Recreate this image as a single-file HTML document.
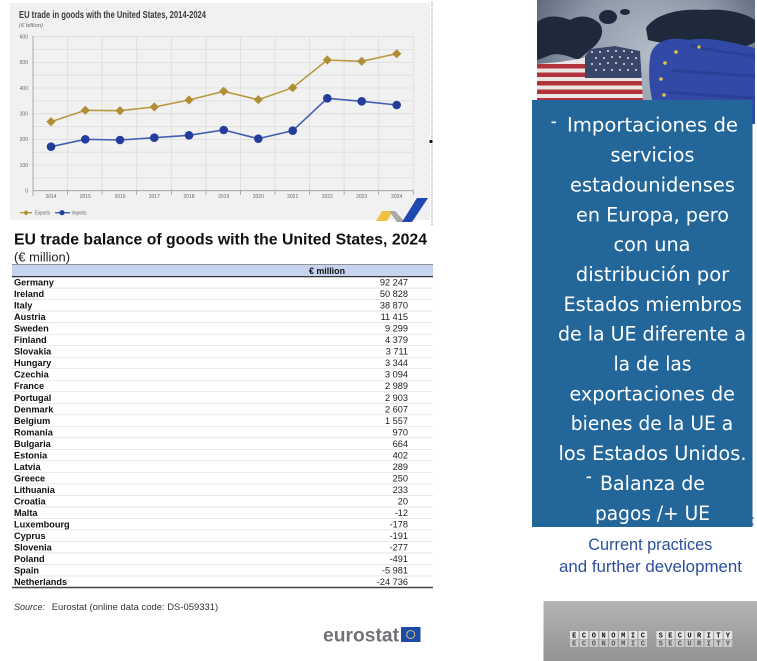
<!DOCTYPE html>
<html><head><meta charset="utf-8"><style>
html,body{margin:0;padding:0;background:#fff;}
svg{display:block;}
</style></head><body>
<svg width="757" height="661" viewBox="0 0 757 661" xmlns="http://www.w3.org/2000/svg">
<defs>
<radialGradient id="mapbg" cx="650" cy="55" r="130" gradientUnits="userSpaceOnUse">
<stop offset="0" stop-color="#b3bcc7"/><stop offset="0.6" stop-color="#8b97a6"/><stop offset="1" stop-color="#5a6678"/>
</radialGradient>
<linearGradient id="gimg" x1="0" y1="0" x2="0" y2="1">
<stop offset="0" stop-color="#b4b4b4"/><stop offset="1" stop-color="#939393"/>
</linearGradient>
<clipPath id="photo"><rect x="537" y="0" width="218" height="124"/></clipPath>
<clipPath id="flag"><path d="M537,64 L560,62 L584,58 L590,49 L615,46 L640,51 L643,100 L537,100Z"/></clipPath>
<path id="dm" d="M0,-4.6L4.6,0L0,4.6L-4.6,0Z"/>
</defs>

<!-- ============ LEFT: line chart panel ============ -->
<rect x="10" y="3" width="420" height="217" fill="#f1f1f1"/>
<text x="19" y="17.8" font-family="Liberation Sans, sans-serif" font-weight="bold" font-size="10" fill="#3a3a3a" textLength="187" lengthAdjust="spacingAndGlyphs">EU trade in goods with the United States, 2014-2024</text>
<text x="19" y="27" font-family="Liberation Sans, sans-serif" font-style="italic" font-size="5.5" fill="#666" textLength="24" lengthAdjust="spacingAndGlyphs">(€ billion)</text>

<!-- gridlines -->
<g stroke="#dcdcdc" stroke-width="0.8" fill="none">
<path d="M33,177.9H413M33,165H413M33,152.2H413M33,139.4H413M33,126.5H413M33,113.7H413M33,100.9H413M33,88H413M33,75.2H413M33,62.4H413M33,49.5H413M33,36.7H413"/>
<path d="M67.6,36.7V190.7M102.1,36.7V190.7M136.7,36.7V190.7M171.3,36.7V190.7M205.9,36.7V190.7M240.4,36.7V190.7M275,36.7V190.7M309.6,36.7V190.7M344.1,36.7V190.7M378.7,36.7V190.7M413.3,36.7V190.7"/>
</g>
<g stroke="#9a9a9a" stroke-width="0.8" fill="none">
<path d="M33,36V196"/>
<path d="M33,190.7H413.3"/>
<path d="M67.6,190.7V195M102.1,190.7V195M136.7,190.7V195M171.3,190.7V195M205.9,190.7V195M240.4,190.7V195M275,190.7V195M309.6,190.7V195M344.1,190.7V195M378.7,190.7V195M413.3,190.7V195"/>
</g>
<g font-family="Liberation Sans, sans-serif" font-size="5" fill="#666" text-anchor="end">
<text x="28" y="192.5">0</text><text x="28" y="166.8">100</text><text x="28" y="141.2">200</text><text x="28" y="115.5">300</text><text x="28" y="89.8">400</text><text x="28" y="64.2">500</text><text x="28" y="38.5">600</text>
</g>
<g font-family="Liberation Sans, sans-serif" font-size="5" fill="#666" text-anchor="middle">
<text x="51" y="198">2014</text><text x="85.3" y="198">2015</text><text x="120" y="198">2016</text><text x="154.3" y="198">2017</text><text x="189" y="198">2018</text><text x="223.7" y="198">2019</text><text x="258.3" y="198">2020</text><text x="292.7" y="198">2021</text><text x="327.3" y="198">2022</text><text x="361.7" y="198">2023</text><text x="396.7" y="198">2024</text>
</g>
<!-- series -->
<polyline fill="none" stroke="#b8983f" stroke-width="1.6" points="51,121.7 85.3,110.3 120,110.7 154.3,107 189,100 223.7,91.3 258.3,99.7 292.7,87.7 327.3,60 361.7,61.3 396.7,53.7"/>
<g fill="#b08e35">
<use href="#dm" x="51" y="121.7"/><use href="#dm" x="85.3" y="110.3"/><use href="#dm" x="120" y="110.7"/><use href="#dm" x="154.3" y="107"/><use href="#dm" x="189" y="100"/><use href="#dm" x="223.7" y="91.3"/><use href="#dm" x="258.3" y="99.7"/><use href="#dm" x="292.7" y="87.7"/><use href="#dm" x="327.3" y="60"/><use href="#dm" x="361.7" y="61.3"/><use href="#dm" x="396.7" y="53.7"/>
</g>
<polyline fill="none" stroke="#4560b2" stroke-width="1.6" points="51,146.7 85.3,139.3 120,140 154.3,137.7 189,135.3 223.7,130 258.3,138.7 292.7,130.7 327.3,98.3 361.7,101.3 396.7,105"/>
<g fill="#243d9c">
<circle cx="51" cy="146.7" r="4.3"/><circle cx="85.3" cy="139.3" r="4.3"/><circle cx="120" cy="140" r="4.3"/><circle cx="154.3" cy="137.7" r="4.3"/><circle cx="189" cy="135.3" r="4.3"/><circle cx="223.7" cy="130" r="4.3"/><circle cx="258.3" cy="138.7" r="4.3"/><circle cx="292.7" cy="130.7" r="4.3"/><circle cx="327.3" cy="98.3" r="4.3"/><circle cx="361.7" cy="101.3" r="4.3"/><circle cx="396.7" cy="105" r="4.3"/>
</g>
<!-- legend -->
<path d="M20,212.7H32" stroke="#b8983f" stroke-width="1.4"/>
<use href="#dm" x="26" y="212.7" fill="#b08e35" transform="translate(26,212.7) scale(0.6) translate(-26,-212.7)"/>
<text x="35" y="214.6" font-family="Liberation Sans, sans-serif" font-size="5.2" fill="#666" textLength="15" lengthAdjust="spacingAndGlyphs">Exports</text>
<path d="M55,212.7H70" stroke="#4560b2" stroke-width="1.4"/>
<circle cx="62" cy="212.7" r="2.6" fill="#243d9c"/>
<text x="71.5" y="214.6" font-family="Liberation Sans, sans-serif" font-size="5.2" fill="#666" textLength="15" lengthAdjust="spacingAndGlyphs">Imports</text>
<!-- corner logo -->
<path d="M376,221 L382,211 L393,211 L387,221Z" fill="#f0c040"/>
<path d="M389,211 L395,211 L405,222 L397,222Z" fill="#a8a8a8"/>
<path d="M402,222 L417,198 L428,198 L412,222Z" fill="#1f48b0"/>
<!-- dotted separator -->
<path d="M432,2V225" stroke="#7d8fb0" stroke-width="1" stroke-dasharray="1,1"/>
<rect x="429.5" y="140" width="3" height="3" fill="#111"/>

<!-- ============ LEFT: table ============ -->
<text x="14" y="244.5" font-family="Liberation Sans, sans-serif" font-weight="bold" font-size="15.5" fill="#111" textLength="413" lengthAdjust="spacingAndGlyphs">EU trade balance of goods with the United States, 2024</text>
<text x="14" y="261.5" font-family="Liberation Sans, sans-serif" font-size="13" fill="#222" textLength="56" lengthAdjust="spacingAndGlyphs">(€ million)</text>
<rect x="12" y="264.3" width="421" height="12.3" fill="#c7d4f0"/>
<path d="M12,264.5H433" stroke="#777" stroke-width="0.8"/>
<path d="M12,276.6H433" stroke="#333" stroke-width="1.2"/>
<text x="327" y="273.9" text-anchor="middle" font-family="Liberation Sans, sans-serif" font-weight="bold" font-size="9" fill="#111" textLength="36" lengthAdjust="spacingAndGlyphs">€ million</text>
<path d="M12,288.1H433M12,299.6H433M12,311.1H433M12,322.6H433M12,334.2H433M12,345.7H433M12,357.2H433M12,368.7H433M12,380.2H433M12,391.7H433M12,403.3H433M12,414.8H433M12,426.3H433M12,437.8H433M12,449.3H433M12,460.8H433M12,472.3H433M12,483.9H433M12,495.4H433M12,506.9H433M12,518.4H433M12,529.9H433M12,541.4H433M12,552.9H433M12,564.5H433M12,576H433" stroke="#dedede" stroke-width="0.7"/>
<path d="M12,587.5H433" stroke="#444" stroke-width="1.4"/>
<g font-family="Liberation Sans, sans-serif" font-weight="bold" font-size="9.2" fill="#111">
<text x="14" y="285.6">Germany</text><text x="14" y="297.1">Ireland</text><text x="14" y="308.6">Italy</text><text x="14" y="320.1">Austria</text><text x="14" y="331.7">Sweden</text><text x="14" y="343.2">Finland</text><text x="14" y="354.7">Slovakia</text><text x="14" y="366.2">Hungary</text><text x="14" y="377.7">Czechia</text><text x="14" y="389.2">France</text><text x="14" y="400.8">Portugal</text><text x="14" y="412.3">Denmark</text><text x="14" y="423.8">Belgium</text><text x="14" y="435.3">Romania</text><text x="14" y="446.8">Bulgaria</text><text x="14" y="458.3">Estonia</text><text x="14" y="469.8">Latvia</text><text x="14" y="481.4">Greece</text><text x="14" y="492.9">Lithuania</text><text x="14" y="504.4">Croatia</text><text x="14" y="515.9">Malta</text><text x="14" y="527.4">Luxembourg</text><text x="14" y="538.9">Cyprus</text><text x="14" y="550.4">Slovenia</text><text x="14" y="562">Poland</text><text x="14" y="573.5">Spain</text><text x="14" y="585">Netherlands</text>
</g>
<g font-family="Liberation Sans, sans-serif" font-size="9.2" fill="#222" text-anchor="end">
<text x="408" y="285.6">92 247</text><text x="408" y="297.1">50 828</text><text x="408" y="308.6">38 870</text><text x="408" y="320.1">11 415</text><text x="408" y="331.7">9 299</text><text x="408" y="343.2">4 379</text><text x="408" y="354.7">3 711</text><text x="408" y="366.2">3 344</text><text x="408" y="377.7">3 094</text><text x="408" y="389.2">2 989</text><text x="408" y="400.8">2 903</text><text x="408" y="412.3">2 607</text><text x="408" y="423.8">1 557</text><text x="408" y="435.3">970</text><text x="408" y="446.8">664</text><text x="408" y="458.3">402</text><text x="408" y="469.8">289</text><text x="408" y="481.4">250</text><text x="408" y="492.9">233</text><text x="408" y="504.4">20</text><text x="408" y="515.9">-12</text><text x="408" y="527.4">-178</text><text x="408" y="538.9">-191</text><text x="408" y="550.4">-277</text><text x="408" y="562">-491</text><text x="408" y="573.5">-5 981</text><text x="408" y="585">-24 736</text>
</g>
<text x="14" y="609.8" font-family="Liberation Sans, sans-serif" font-style="italic" font-size="9.5" fill="#333" textLength="31" lengthAdjust="spacingAndGlyphs">Source:</text>
<text x="51.7" y="609.8" font-family="Liberation Sans, sans-serif" font-size="9.5" fill="#333" textLength="166.5" lengthAdjust="spacingAndGlyphs">Eurostat (online data code: DS-059331)</text>
<!-- eurostat logo -->
<text x="323" y="641.5" font-family="Liberation Sans, sans-serif" font-weight="bold" font-size="19" fill="#707277" textLength="76" lengthAdjust="spacingAndGlyphs">eurostat</text>
<rect x="401" y="627" width="19.5" height="15" fill="#1b4aa8"/>
<circle cx="410.7" cy="634.5" r="4" fill="none" stroke="#c9bd6a" stroke-width="1.1"/>

<!-- ============ RIGHT: photo ============ -->
<g clip-path="url(#photo)">
<rect x="537" y="0" width="218" height="124" fill="url(#mapbg)"/>
<g fill="#1e2a3b">
<path d="M537,22 C548,14 560,16 570,20 C580,14 592,16 600,24 C606,34 598,44 590,50 L578,60 C566,55 556,52 548,56 L537,60Z"/>
<ellipse cx="608" cy="17" rx="9" ry="7"/>
<ellipse cx="625" cy="12" rx="5" ry="3"/>
<path d="M646,28 C655,14 680,8 705,10 C725,8 748,14 755,20 L755,42 C740,52 715,48 700,42 C685,46 665,44 648,40Z"/>
<ellipse cx="668" cy="22" rx="4" ry="3"/>
<ellipse cx="600" cy="62" rx="8" ry="10"/>
</g>
<g clip-path="url(#flag)">
<rect x="537" y="40" width="110" height="62" fill="#ebe5e5"/>
<path d="M537,64H645V68.5H537ZM537,72.5H645V77H537ZM537,81H645V85.5H537ZM537,89.5H645V94H537ZM537,98H645V102H537Z" fill="#b2323c"/>
<rect x="585" y="44" width="60" height="34" fill="#3a4668"/>
<g fill="#dde2ee">
<circle cx="592" cy="52" r="1"/><circle cx="600" cy="52" r="1"/><circle cx="608" cy="51" r="1"/><circle cx="616" cy="51" r="1"/><circle cx="624" cy="51" r="1"/><circle cx="632" cy="52" r="1"/>
<circle cx="596" cy="58" r="1"/><circle cx="604" cy="58" r="1"/><circle cx="612" cy="57" r="1"/><circle cx="620" cy="57" r="1"/><circle cx="628" cy="58" r="1"/><circle cx="636" cy="58" r="1"/>
<circle cx="592" cy="64" r="1"/><circle cx="600" cy="64" r="1"/><circle cx="608" cy="63" r="1"/><circle cx="616" cy="63" r="1"/><circle cx="624" cy="64" r="1"/><circle cx="632" cy="64" r="1"/>
<circle cx="596" cy="70" r="1"/><circle cx="604" cy="70" r="1"/><circle cx="612" cy="70" r="1"/><circle cx="620" cy="70" r="1"/><circle cx="628" cy="70" r="1"/><circle cx="636" cy="70" r="1"/>
</g>
</g>
<path d="M650,58 C652,42 668,36 688,40 C710,36 738,44 755,48 L755,124 L662,124 C652,110 647,82 650,58Z" fill="#3249a6"/>
<path d="M690,45 C705,50 725,52 755,56 M672,70 C690,72 720,74 755,76 M668,92 C690,94 720,96 755,98" stroke="#25388a" stroke-width="3" fill="none" opacity="0.6"/>
<g fill="#e3c640">
<circle cx="676" cy="52" r="1.8"/><circle cx="699" cy="47" r="1.6"/><circle cx="665" cy="63" r="1.8"/><circle cx="661" cy="79" r="1.8"/><circle cx="664" cy="95" r="1.8"/>
</g>
</g>

<!-- blue text box -->
<rect x="532" y="100" width="220.5" height="427" fill="#23669a"/>
<rect x="551.5" y="121.5" width="4.5" height="1.7" fill="#fff"/>
<rect x="586.5" y="476.5" width="4.5" height="1.7" fill="#fff"/>
<g font-family="DejaVu Sans, Liberation Sans, sans-serif" font-size="19.4" fill="#ffffff" text-anchor="middle">
<text x="652.5" y="131.7" textLength="171" lengthAdjust="spacingAndGlyphs">Importaciones de</text>
<text x="652.5" y="161.55" textLength="84" lengthAdjust="spacingAndGlyphs">servicios</text>
<text x="652.5" y="191.4" textLength="165" lengthAdjust="spacingAndGlyphs">estadounidenses</text>
<text x="652.5" y="221.25" textLength="153" lengthAdjust="spacingAndGlyphs">en Europa, pero</text>
<text x="652" y="251.1" textLength="77" lengthAdjust="spacingAndGlyphs">con una</text>
<text x="652.5" y="280.95" textLength="153.5" lengthAdjust="spacingAndGlyphs">distribución por</text>
<text x="652.7" y="310.8" textLength="178.5" lengthAdjust="spacingAndGlyphs">Estados miembros</text>
<text x="652" y="340.65" textLength="188" lengthAdjust="spacingAndGlyphs">de la UE diferente a</text>
<text x="652.5" y="370.5" textLength="78" lengthAdjust="spacingAndGlyphs">la de las</text>
<text x="652.2" y="400.35" textLength="165.5" lengthAdjust="spacingAndGlyphs">exportaciones de</text>
<text x="652" y="430.2" textLength="162.5" lengthAdjust="spacingAndGlyphs">bienes de la UE a</text>
<text x="652.5" y="460.05" textLength="188" lengthAdjust="spacingAndGlyphs">los Estados Unidos.</text>
<text x="652.5" y="489.9" textLength="105" lengthAdjust="spacingAndGlyphs">Balanza de</text>
<text x="652.5" y="519.75" textLength="115" lengthAdjust="spacingAndGlyphs">pagos /+ UE</text>
</g>
<text x="751" y="525" font-family="Liberation Sans, sans-serif" font-size="14" fill="#2d4f9a">:</text>

<!-- Current practices -->
<g font-family="Liberation Sans, sans-serif" font-size="16.5" fill="#2c4f9c" text-anchor="middle">
<text x="650.3" y="550" textLength="124" lengthAdjust="spacingAndGlyphs">Current practices</text>
<text x="650.5" y="571.8" textLength="183" lengthAdjust="spacingAndGlyphs">and further development</text>
</g>

<!-- bottom image -->
<rect x="543.5" y="601" width="213.5" height="60" fill="url(#gimg)"/>
<g font-family="Liberation Mono, monospace" font-weight="bold" font-size="7" text-anchor="middle">
<g fill="#e6e6e6">
<rect x="570" y="631" width="8.5" height="8"/><rect x="579.8" y="631" width="8.5" height="8"/><rect x="589.6" y="631" width="8.5" height="8"/><rect x="599.4" y="631" width="8.5" height="8"/><rect x="609.2" y="631" width="8.5" height="8"/><rect x="619" y="631" width="8.5" height="8"/><rect x="628.8" y="631" width="8.5" height="8"/><rect x="638.6" y="631" width="8.5" height="8"/>
<rect x="656.5" y="631" width="8.5" height="8"/><rect x="666.1" y="631" width="8.5" height="8"/><rect x="675.7" y="631" width="8.5" height="8"/><rect x="685.3" y="631" width="8.5" height="8"/><rect x="694.9" y="631" width="8.5" height="8"/><rect x="704.5" y="631" width="8.5" height="8"/><rect x="714.1" y="631" width="8.5" height="8"/><rect x="723.7" y="631" width="8.5" height="8"/>
</g>
<g fill="#c9c9c9">
<rect x="570" y="639.5" width="8.5" height="7.5"/><rect x="579.8" y="639.5" width="8.5" height="7.5"/><rect x="589.6" y="639.5" width="8.5" height="7.5"/><rect x="599.4" y="639.5" width="8.5" height="7.5"/><rect x="609.2" y="639.5" width="8.5" height="7.5"/><rect x="619" y="639.5" width="8.5" height="7.5"/><rect x="628.8" y="639.5" width="8.5" height="7.5"/><rect x="638.6" y="639.5" width="8.5" height="7.5"/>
<rect x="656.5" y="639.5" width="8.5" height="7.5"/><rect x="666.1" y="639.5" width="8.5" height="7.5"/><rect x="675.7" y="639.5" width="8.5" height="7.5"/><rect x="685.3" y="639.5" width="8.5" height="7.5"/><rect x="694.9" y="639.5" width="8.5" height="7.5"/><rect x="704.5" y="639.5" width="8.5" height="7.5"/><rect x="714.1" y="639.5" width="8.5" height="7.5"/><rect x="723.7" y="639.5" width="8.5" height="7.5"/>
</g>
<g fill="#111">
<text x="574.2" y="637.6">E</text><text x="584" y="637.6">C</text><text x="593.8" y="637.6">O</text><text x="603.6" y="637.6">N</text><text x="613.4" y="637.6">O</text><text x="623.2" y="637.6">M</text><text x="633" y="637.6">I</text><text x="642.8" y="637.6">C</text>
<text x="660.7" y="637.6">S</text><text x="670.3" y="637.6">E</text><text x="679.9" y="637.6">C</text><text x="689.5" y="637.6">U</text><text x="699.1" y="637.6">R</text><text x="708.7" y="637.6">I</text><text x="718.3" y="637.6">T</text><text x="727.9" y="637.6">Y</text>
</g>
<g fill="#555">
<text x="574.2" y="645.6">E</text><text x="584" y="645.6">C</text><text x="593.8" y="645.6">O</text><text x="603.6" y="645.6">N</text><text x="613.4" y="645.6">O</text><text x="623.2" y="645.6">M</text><text x="633" y="645.6">I</text><text x="642.8" y="645.6">C</text>
<text x="660.7" y="645.6">S</text><text x="670.3" y="645.6">E</text><text x="679.9" y="645.6">C</text><text x="689.5" y="645.6">U</text><text x="699.1" y="645.6">R</text><text x="708.7" y="645.6">I</text><text x="718.3" y="645.6">T</text><text x="727.9" y="645.6">Y</text>
</g>
</g>
</svg>
</body></html>
